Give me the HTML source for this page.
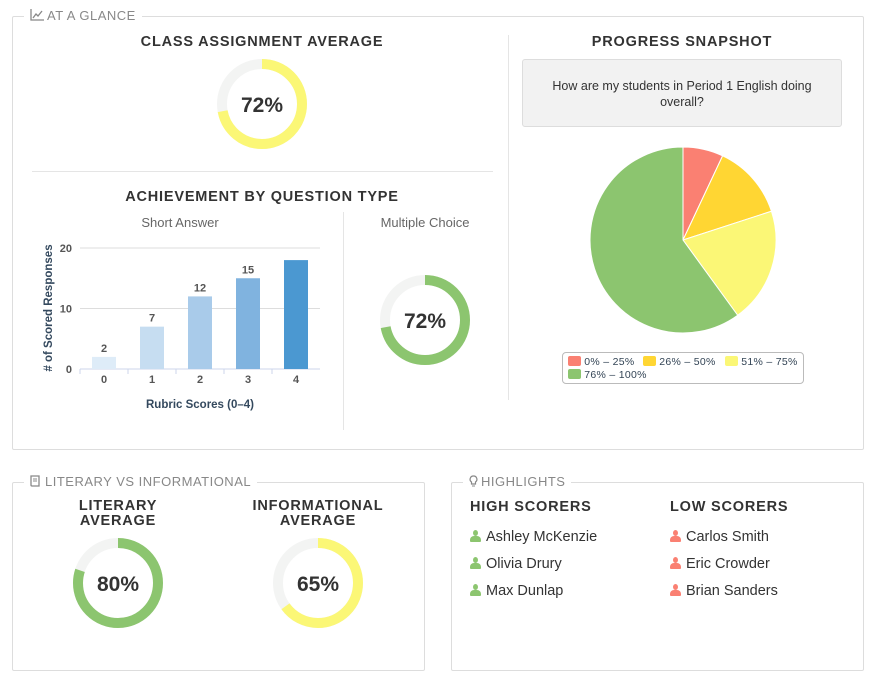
<!DOCTYPE html>
<html><head><meta charset="utf-8">
<style>
body{margin:0;width:877px;height:682px;background:#fff;position:relative;font-family:"Liberation Sans",sans-serif;overflow:hidden}
.abs{position:absolute}
.box{position:absolute;border:1px solid #ddd;border-radius:2px}
.leg{position:absolute;background:#fff;padding:0 6px;color:#888;font-size:13px;letter-spacing:.5px}
.leg svg{vertical-align:-1px;margin-right:3px}
.h{position:absolute;font-weight:bold;color:#333;font-size:14.5px;letter-spacing:.8px;text-align:center}
.sub{position:absolute;color:#666;font-size:13px;text-align:center}
.name{position:absolute;font-size:14.5px;color:#333}
.ic{display:inline-block;width:11px;height:12px;margin-right:5px;vertical-align:-1px;position:relative}
.ic:before{content:"";position:absolute;left:3px;top:0;width:5px;height:6px;border-radius:50%;background:currentColor}
.ic:after{content:"";position:absolute;left:0;top:6px;width:11px;height:6px;border-radius:4px 4px 1px 1px;background:currentColor}
</style></head><body>
<div class="box" style="left:12px;top:16px;width:850px;height:432px"></div>
<div class="leg" style="left:24px;top:8px"><svg width="14" height="12" viewBox="0 0 14 12"><path d="M1 0V11H14" fill="none" stroke="#888" stroke-width="1.3"/><path d="M3 9L6 5L8 7L12 2" fill="none" stroke="#888" stroke-width="1.3"/></svg>AT A GLANCE</div>
<div class="h" style="left:112px;top:34px;width:300px">CLASS ASSIGNMENT AVERAGE</div>
<div class="abs" style="left:32px;top:171px;width:461px;height:1px;background:#e5e5e5"></div>
<div class="abs" style="left:508px;top:35px;width:1px;height:365px;background:#e5e5e5"></div>
<div class="abs" style="left:343px;top:212px;width:1px;height:218px;background:#e5e5e5"></div>
<div class="h" style="left:82px;top:189px;width:360px">ACHIEVEMENT BY QUESTION TYPE</div>
<div class="sub" style="left:80px;top:215px;width:200px">Short Answer</div>
<div class="sub" style="left:345px;top:215px;width:160px">Multiple Choice</div>
<div class="h" style="left:532px;top:34px;width:300px">PROGRESS SNAPSHOT</div>
<div class="abs" style="left:522px;top:59px;width:320px;height:68px;background:#f2f2f2;border:1px solid #ddd;border-radius:3px;font-size:12.5px;color:#333;text-align:center;box-sizing:border-box;padding:18px 20px 0;line-height:16px">How are my students in Period 1 English doing overall?</div>

<div class="box" style="left:12px;top:482px;width:411px;height:187px"></div>
<div class="leg" style="left:24px;top:474px"><svg width="12" height="12" viewBox="0 0 12 12"><path d="M1 1H9V11H2Q1 11 1 10Z" fill="none" stroke="#888" stroke-width="1.3"/><path d="M3 4H7M3 6H7" stroke="#888"/></svg>LITERARY VS INFORMATIONAL</div>
<div class="h" style="left:38px;top:499px;width:160px;line-height:15px">LITERARY<br>AVERAGE</div>
<div class="h" style="left:228px;top:499px;width:180px;line-height:15px">INFORMATIONAL<br>AVERAGE</div>

<div class="box" style="left:451px;top:482px;width:411px;height:187px"></div>
<div class="leg" style="left:463px;top:474px"><svg width="9" height="12" viewBox="0 0 9 12"><path d="M4.5 1A3.3 3.3 0 0 0 2.5 7V9H6.5V7A3.3 3.3 0 0 0 4.5 1Z" fill="none" stroke="#888" stroke-width="1.2"/><path d="M3 11H6" stroke="#888"/></svg>HIGHLIGHTS</div>
<div class="h" style="left:470px;top:499px;text-align:left">HIGH SCORERS</div>
<div class="h" style="left:670px;top:499px;text-align:left">LOW SCORERS</div>
<div class="name" style="left:470px;top:529px"><span class="ic" style="color:#8cc56f"></span>Ashley McKenzie</div>
<div class="name" style="left:470px;top:556px"><span class="ic" style="color:#8cc56f"></span>Olivia Drury</div>
<div class="name" style="left:470px;top:583px"><span class="ic" style="color:#8cc56f"></span>Max Dunlap</div>
<div class="name" style="left:670px;top:529px"><span class="ic" style="color:#fa8072"></span>Carlos Smith</div>
<div class="name" style="left:670px;top:556px"><span class="ic" style="color:#fa8072"></span>Eric Crowder</div>
<div class="name" style="left:670px;top:583px"><span class="ic" style="color:#fa8072"></span>Brian Sanders</div>

<svg id="svg" class="abs" style="left:0;top:0" width="877" height="682"></svg>

<div class="abs" style="left:562px;top:352px;width:240px;height:30px;border:1px solid #bbb;border-radius:4px;font-size:10.5px;color:#345;letter-spacing:.3px">
<div class="abs" style="left:5px;top:3px"><span style="display:inline-block;width:13px;height:10px;background:#fa8072;border-radius:2px;vertical-align:-1px"></span> 0% – 25%</div>
<div class="abs" style="left:80px;top:3px"><span style="display:inline-block;width:13px;height:10px;background:#ffd633;border-radius:2px;vertical-align:-1px"></span> 26% – 50%</div>
<div class="abs" style="left:162px;top:3px"><span style="display:inline-block;width:13px;height:10px;background:#fbf776;border-radius:2px;vertical-align:-1px"></span> 51% – 75%</div>
<div class="abs" style="left:5px;top:16px"><span style="display:inline-block;width:13px;height:10px;background:#8cc56f;border-radius:2px;vertical-align:-1px"></span> 76% – 100%</div>
</div>

<script>
const barCats=['0','1','2','3','4'];
const barVals=[2,7,12,15,18];
const barLabels=['2','7','12','15',''];
const yTicks=[0,10,20];
const pieCats=['0% – 25%','26% – 50%','51% – 75%','76% – 100%'];
const pieVals=[7,13,20,60];
const donutNames=['class-average','multiple-choice','literary-average','informational-average'];
const donutVals=[72,72,80,65];

const NS='http://www.w3.org/2000/svg';
const svg=document.getElementById('svg');
function mk(t,a,p){const e=document.createElementNS(NS,t);for(const k in a)e.setAttribute(k,a[k]);(p||svg).appendChild(e);return e;}

const x0=80,x1=320,y0=369,y1=248,ymax=20;
const ys=v=>y0-(v/ymax)*(y0-y1);
const bw=(x1-x0)/barCats.length;
const barColors=['#deecf8','#c6ddf1','#a9cbea','#80b3df','#4b98d1'];
yTicks.forEach(t=>{
  const g=mk('line',{x1:x0,x2:x1,y1:ys(t),y2:ys(t),stroke:t===0?'#ccd6eb':'#ddd','stroke-width':1});
  
  
  const tx=mk('text',{x:x0-8,y:ys(t)+4,'text-anchor':'end','font-size':11,'font-weight':'bold',fill:'#555'});
  tx.textContent=t;
  
  
});
barCats.forEach((c,i)=>{
  const cx=x0+bw*(i+0.5);
  const r=mk('rect',{x:cx-12,y:ys(barVals[i]),width:24,height:y0-ys(barVals[i]),fill:barColors[i]});
  
  
  const tk=mk('line',{x1:x0+bw*i,x2:x0+bw*i,y1:y0,y2:y0+5,stroke:'#ccd6eb'});
  
  
  const t=mk('text',{x:cx,y:y0+14,'text-anchor':'middle','font-size':11,'font-weight':'bold',fill:'#555'});
  t.textContent=c;
  
  
  if(barLabels[i]){const l=mk('text',{x:cx,y:ys(barVals[i])-5,'text-anchor':'middle','font-size':11,'font-weight':'bold',fill:'#555'});
  l.textContent=barLabels[i];
  
  }
});
const xt=mk('text',{x:200,y:408,'text-anchor':'middle','font-size':11.5,'font-weight':'bold',fill:'#34495e'});
xt.textContent='Rubric Scores (0–4)';


const yt=mk('text',{x:0,y:0,'text-anchor':'middle','font-size':11.5,'font-weight':'bold',fill:'#34495e',transform:'translate(52,308) rotate(-90)'});
yt.textContent='# of Scored Responses';



const pcx=683,pcy=240,pr=93;const pieColors=['#fa8072','#ffd633','#fbf776','#8cc56f'];
const tot=pieVals.reduce((a,b)=>a+b,0);let acc=0;
pieVals.forEach((v,i)=>{
  const a0=acc/tot*2*Math.PI;acc+=v;const a1=acc/tot*2*Math.PI;
  const p=(a)=>[pcx+pr*Math.sin(a),pcy-pr*Math.cos(a)];
  const [sx,sy]=p(a0),[ex,ey]=p(a1);
  const s=mk('path',{d:`M${pcx},${pcy}L${sx},${sy}A${pr},${pr} 0 ${a1-a0>Math.PI?1:0} 1 ${ex},${ey}Z`,fill:pieColors[i],stroke:'#fff','stroke-width':1});
  
  
});

const donutPos=[[262,104,'#fbf776'],[425,320,'#8cc56f'],[118,583,'#8cc56f'],[318,583,'#fbf776']];
donutVals.forEach((v,i)=>{
  const [cx,cy,col]=donutPos[i];const r=40,C=2*Math.PI*r;
  const bg=mk('circle',{cx,cy,r,fill:'none',stroke:'#f3f4f3','stroke-width':10});
  
  
  const fg=mk('circle',{cx,cy,r,fill:'none',stroke:col,'stroke-width':10,'stroke-dasharray':`${C*v/100} ${C}`,transform:`rotate(-90 ${cx} ${cy})`});
  
  
  const t=mk('text',{x:cx,y:cy+8,'text-anchor':'middle','font-size':21,'font-weight':'bold',fill:'#333'});
  t.textContent=v+'%';
  
  
});
</script>
</body></html>
